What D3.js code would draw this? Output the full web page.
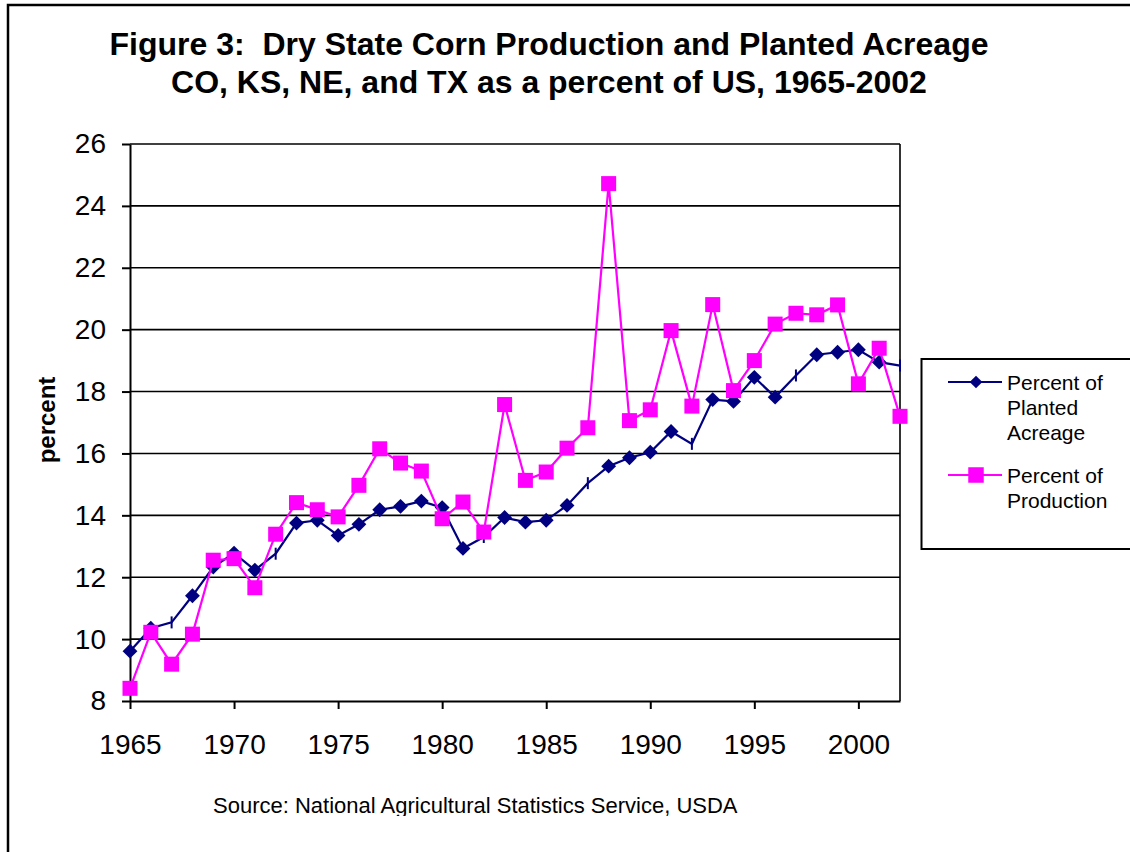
<!DOCTYPE html>
<html>
<head>
<meta charset="utf-8">
<script src="https://cdn.jsdelivr.net/npm/d3@7"></script>
<style>
  body { margin: 0; background: #fff; }
  text { font-family: "Liberation Sans", Arial, sans-serif; }
</style>
</head>
<body>
<script>
//chart values
var years = d3.range(1965, 2003);
var acreage = [9.61, 10.35, 10.54, 11.40, 12.33, 12.78, 12.23, 12.76, 13.75, 13.84,
               13.35, 13.71, 14.18, 14.29, 14.46, 14.25, 12.93, 13.30, 13.93, 13.78,
               13.84, 14.32, 15.04, 15.59, 15.86, 16.04, 16.71, 16.31, 17.74, 17.68,
               18.46, 17.82, 18.52, 19.19, 19.27, 19.35, 18.95, 18.84];
var production = [8.41, 10.22, 9.19, 10.16, 12.55, 12.60, 11.66, 13.39, 14.41, 14.18,
                  13.95, 14.97, 16.15, 15.69, 15.43, 13.89, 14.43, 13.46, 17.58, 15.13,
                  15.40, 16.17, 16.83, 24.72, 17.06, 17.41, 19.97, 17.53, 20.81, 18.03,
                  19.00, 20.18, 20.53, 20.48, 20.80, 18.25, 19.40, 17.20];
//years where the acreage diamond is drawn as a small dash only
var dashYears = [1967, 1972, 1982, 1987, 1992, 1997, 2002];
var yTicks = [8, 10, 12, 14, 16, 18, 20, 22, 24, 26];
var xTicks = [1965, 1970, 1975, 1980, 1985, 1990, 1995, 2000];
var titleLines = ["Figure 3:  Dry State Corn Production and Planted Acreage",
                  "CO, KS, NE, and TX as a percent of US, 1965-2002"];

var width = 1130, height = 852;

var svg = d3.select("body").append("svg")
    .attr("width", width)
    .attr("height", height);

//outer frame (left and top edges)
svg.append("path")
    .attr("d", "M8,852 L8,5 L1130,5")
    .attr("fill", "none")
    .attr("stroke", "#000")
    .attr("stroke-width", 2.5);

//title
svg.selectAll(".title")
    .data(titleLines)
    .enter()
    .append("text")
    .attr("class", "title")
    .attr("x", 549)
    .attr("y", function(d, i){ return 55 + i * 38; })
    .attr("text-anchor", "middle")
    .style("white-space", "pre")
    .style("font-weight", "bold")
    .style("font-size", "32px")
    .text(function(d){ return d; });

//scales
var x = d3.scaleLinear().domain([1965, 2002]).range([130, 900]);
var y = d3.scaleLinear().domain([8, 26]).range([701, 144]);

//gridlines
svg.selectAll(".grid")
    .data(yTicks.filter(function(d){ return d > 8; }))
    .enter()
    .append("line")
    .attr("x1", 130).attr("x2", 900)
    .attr("y1", function(d){ return y(d); })
    .attr("y2", function(d){ return y(d); })
    .attr("stroke", "#000")
    .attr("stroke-width", 1.6);

//right edge of plot area
svg.append("line")
    .attr("x1", 900).attr("x2", 900)
    .attr("y1", y(26)).attr("y2", y(8))
    .attr("stroke", "#000")
    .attr("stroke-width", 1.6);

//y axis
var yAxis = svg.append("g")
    .attr("transform", "translate(130,0)")
    .call(d3.axisLeft(y).tickValues(yTicks).tickSize(8).tickPadding(16).tickSizeOuter(0));

//x axis
var xAxis = svg.append("g")
    .attr("transform", "translate(0," + y(8) + ")")
    .call(d3.axisBottom(x).tickValues(xTicks).tickFormat(d3.format("d"))
        .tickSize(8).tickPadding(25).tickSizeOuter(0));

[yAxis, xAxis].forEach(function(ax){
    ax.select(".domain").attr("stroke", "#000").attr("stroke-width", 2);
    ax.selectAll(".tick line").attr("stroke", "#000").attr("stroke-width", 2);
    ax.selectAll(".tick text")
        .attr("fill", "#000")
        .style("font-family", "'Liberation Sans', Arial, sans-serif")
        .style("font-size", "28px");
});

//y axis title
svg.append("text")
    .attr("transform", "translate(55,420) rotate(-90)")
    .attr("text-anchor", "middle")
    .style("font-weight", "bold")
    .style("font-size", "24px")
    .text("percent");

var line = d3.line()
    .x(function(d){ return x(d.year); })
    .y(function(d){ return y(d.value); });

var acreageData = years.map(function(yr, i){ return {year: yr, value: acreage[i]}; });
var productionData = years.map(function(yr, i){ return {year: yr, value: production[i]}; });

var navy = "#000080", magenta = "#ff00ff";

//acreage series
svg.append("path")
    .datum(acreageData)
    .attr("d", line)
    .attr("fill", "none")
    .attr("stroke", navy)
    .attr("stroke-width", 2.2);

var diamond = d3.symbol().type(d3.symbolSquare).size(110);

svg.selectAll(".acreDot")
    .data(acreageData.filter(function(d){ return dashYears.indexOf(d.year) < 0; }))
    .enter()
    .append("path")
    .attr("d", diamond)
    .attr("transform", function(d){ return "translate(" + x(d.year) + "," + y(d.value) + ") rotate(45)"; })
    .attr("fill", navy);

svg.selectAll(".acreDash")
    .data(acreageData.filter(function(d){ return dashYears.indexOf(d.year) >= 0; }))
    .enter()
    .append("line")
    .attr("x1", function(d){ return x(d.year); })
    .attr("x2", function(d){ return x(d.year); })
    .attr("y1", function(d){ return y(d.value) - 6; })
    .attr("y2", function(d){ return y(d.value) + 6; })
    .attr("stroke", navy)
    .attr("stroke-width", 2);

//production series
svg.append("path")
    .datum(productionData)
    .attr("d", line)
    .attr("fill", "none")
    .attr("stroke", magenta)
    .attr("stroke-width", 2.2);

svg.selectAll(".prodDot")
    .data(productionData)
    .enter()
    .append("rect")
    .attr("x", function(d){ return x(d.year) - 7.5; })
    .attr("y", function(d){ return y(d.value) - 7.5; })
    .attr("width", 15)
    .attr("height", 15)
    .attr("fill", magenta);

//legend
svg.append("rect")
    .attr("x", 921.5).attr("y", 359)
    .attr("width", 220).attr("height", 190)
    .attr("fill", "#fff")
    .attr("stroke", "#000")
    .attr("stroke-width", 2);

var legendItems = [
    {color: navy, shape: "diamond", y: 382, lines: ["Percent of", "Planted", "Acreage"]},
    {color: magenta, shape: "square", y: 475, lines: ["Percent of", "Production"]}
];

var legend = svg.selectAll(".legendItem")
    .data(legendItems)
    .enter()
    .append("g")
    .attr("class", "legendItem");

legend.append("line")
    .attr("x1", 948).attr("x2", 1002)
    .attr("y1", function(d){ return d.y; })
    .attr("y2", function(d){ return d.y; })
    .attr("stroke", function(d){ return d.color; })
    .attr("stroke-width", 2.2);

legend.append("path")
    .attr("d", function(d){
        return d.shape == "diamond" ? d3.symbol().type(d3.symbolSquare).size(80)()
                                    : d3.symbol().type(d3.symbolSquare).size(240)();
    })
    .attr("transform", function(d){
        return "translate(976," + d.y + ")" + (d.shape == "diamond" ? " rotate(45)" : "");
    })
    .attr("fill", function(d){ return d.color; });

legend.each(function(d){
    d3.select(this).selectAll("text")
        .data(d.lines)
        .enter()
        .append("text")
        .attr("x", 1007)
        .attr("y", function(t, i){ return d.y + 8 + i * 25; })
        .style("font-size", "21px")
        .text(function(t){ return t; });
});

//source note, clipped at the bottom as in the picture
svg.append("clipPath")
    .attr("id", "srcClip")
    .append("rect")
    .attr("x", 0).attr("y", 780)
    .attr("width", width).attr("height", 36);

svg.append("text")
    .attr("x", 213)
    .attr("y", 813)
    .attr("clip-path", "url(#srcClip)")
    .style("font-size", "22px")
    .text("Source: National Agricultural Statistics Service, USDA");
</script>
</body>
</html>
